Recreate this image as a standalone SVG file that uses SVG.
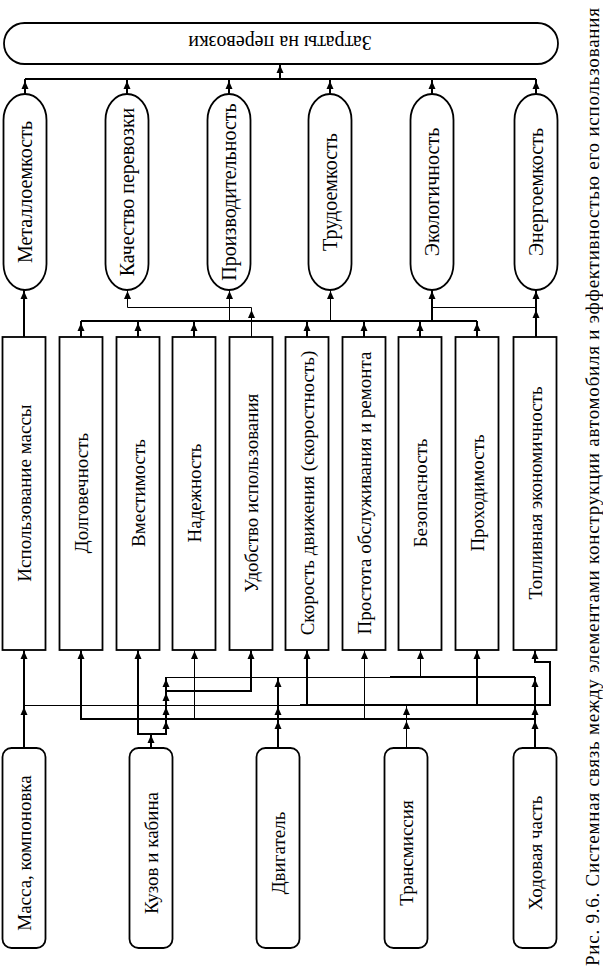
<svg xmlns="http://www.w3.org/2000/svg" xmlns:xlink="http://www.w3.org/1999/xlink" width="603" height="971" viewBox="0 0 603 971">
<style>
.n{fill:#fff;stroke:#000;stroke-width:1.8}
.t{font-family:"Liberation Serif","Times New Roman",serif;font-size:19px;fill:#000;text-anchor:middle;dominant-baseline:central}
.to{font-size:20px}
.cap{font-family:"Liberation Serif","Times New Roman",serif;font-size:19px;fill:#000}
.c{fill:none;stroke:#000;stroke-width:2}
.c1{fill:none;stroke:#000;stroke-width:1}
</style>
<defs>
<path id="ah" d="M0,0 L-3.5,8 L3.5,8 Z" fill="#000"/>
</defs>
<rect width="603" height="971" fill="#fff"/>

<g id="connectors">
<!-- top bus -->
<path class="c" d="M25,79 H536"/>
<path class="c" d="M25,94 V79 M127,94 V79 M229,94 V79 M330,94 V79 M432,94 V79 M536,94 V79 M280,79 V64"/>
<!-- middle -->
<path class="c" d="M24,337 V290"/>
<path class="c1" d="M127.5,290 V307.5 H251.5 V337"/>
<path class="c" d="M81,321 H477"/>
<path class="c" d="M81,337 V321 M138,337 V321 M194,337 V321 M307,337 V321 M364,337 V321 M420,337 V321 M477,337 V321"/>
<path class="c1" d="M229.5,321 V290 M330.5,321 V290"/>
<path class="c" d="M432,321 V290"/>
<path class="c1" d="M432,307.5 H536"/>
<path class="c" d="M536,337 V290"/>
<!-- bottom -->
<path class="c" d="M24,748 V650"/>
<path class="c1" d="M24,705.5 H300"/>
<path class="c" d="M300,705 H550 V662 H535 V650"/>
<path class="c1" d="M166,677.5 H390"/>
<path class="c" d="M390,677 H535"/>
<path class="c" d="M166,691 H251 V650"/>
<path class="c" d="M81,650 V719 H535"/>
<path class="c" d="M151,748 V734 M138,650 V734 H166 V677"/>
<path class="c1" d="M194.5,719 V650"/>
<path class="c" d="M278,748 V677"/>
<path class="c" d="M307,705 V650"/>
<path class="c1" d="M364.5,719 V650"/>
<path class="c1" d="M406.5,748 V705"/>
<path class="c1" d="M420.5,677 V650"/>
<path class="c" d="M477,705 V650"/>
<path class="c" d="M535,748 V677"/>
<!-- arrowheads -->
<use xlink:href="#ah" x="25" y="81"/>
<use xlink:href="#ah" x="127" y="81"/>
<use xlink:href="#ah" x="229" y="81"/>
<use xlink:href="#ah" x="330" y="81"/>
<use xlink:href="#ah" x="432" y="81"/>
<use xlink:href="#ah" x="536" y="81"/>
<use xlink:href="#ah" x="280" y="65"/>
<use xlink:href="#ah" x="24" y="291"/>
<use xlink:href="#ah" x="127.5" y="291"/>
<use xlink:href="#ah" x="229.5" y="291"/>
<use xlink:href="#ah" x="330.5" y="291"/>
<use xlink:href="#ah" x="432" y="291"/>
<use xlink:href="#ah" x="536" y="291"/>
<use xlink:href="#ah" x="251.5" y="310"/>
<use xlink:href="#ah" x="536" y="310"/>
<use xlink:href="#ah" x="81" y="323"/>
<use xlink:href="#ah" x="138" y="323"/>
<use xlink:href="#ah" x="194" y="323"/>
<use xlink:href="#ah" x="307" y="323"/>
<use xlink:href="#ah" x="364" y="323"/>
<use xlink:href="#ah" x="420" y="323"/>
<use xlink:href="#ah" x="477" y="323"/>
<use xlink:href="#ah" x="24" y="651"/>
<use xlink:href="#ah" x="81" y="651"/>
<use xlink:href="#ah" x="138" y="651"/>
<use xlink:href="#ah" x="194.5" y="651"/>
<use xlink:href="#ah" x="251" y="651"/>
<use xlink:href="#ah" x="307" y="651"/>
<use xlink:href="#ah" x="364.5" y="651"/>
<use xlink:href="#ah" x="420.5" y="651"/>
<use xlink:href="#ah" x="477" y="651"/>
<use xlink:href="#ah" x="535" y="651"/>
<use xlink:href="#ah" x="24" y="707"/>
<use xlink:href="#ah" x="151" y="735"/>
<use xlink:href="#ah" x="166" y="679"/>
<use xlink:href="#ah" x="166" y="693"/>
<use xlink:href="#ah" x="166" y="707"/>
<use xlink:href="#ah" x="166" y="721"/>
<use xlink:href="#ah" x="278" y="679"/>
<use xlink:href="#ah" x="278" y="707"/>
<use xlink:href="#ah" x="278" y="721"/>
<use xlink:href="#ah" x="406.5" y="707"/>
<use xlink:href="#ah" x="406.5" y="721"/>
<use xlink:href="#ah" x="535" y="679"/>
<use xlink:href="#ah" x="535" y="707"/>
<use xlink:href="#ah" x="535" y="721"/>
</g>

<g id="zatraty">
<rect class="n" x="4" y="23" width="554" height="41" rx="20.5"/>
<text class="t to" transform="translate(280,43) rotate(180)">Затраты на перевозки</text>
</g>

<g id="metalloemkost"><rect class="n" x="3.5" y="94" width="43" height="196" rx="21.5" ry="26"/><text class="t to" transform="translate(25,192) rotate(-90)">Металлоемкость</text></g>
<g id="kachestvo"><rect class="n" x="105.5" y="94" width="43" height="196" rx="21.5" ry="26"/><text class="t to" transform="translate(127,192) rotate(-90)">Качество перевозки</text></g>
<g id="proizvoditelnost"><rect class="n" x="207.5" y="94" width="43" height="196" rx="21.5" ry="26"/><text class="t to" transform="translate(229,192) rotate(-90)">Производительность</text></g>
<g id="trudoemkost"><rect class="n" x="308.5" y="94" width="43" height="196" rx="21.5" ry="26"/><text class="t to" transform="translate(330,192) rotate(-90)">Трудоемкость</text></g>
<g id="ekologichnost"><rect class="n" x="410.5" y="94" width="43" height="196" rx="21.5" ry="26"/><text class="t to" transform="translate(432,192) rotate(-90)">Экологичность</text></g>
<g id="energoemkost"><rect class="n" x="514.5" y="94" width="43" height="196" rx="21.5" ry="26"/><text class="t to" transform="translate(536,192) rotate(-90)">Энергоемкость</text></g>

<g id="ispolzovanie"><rect class="n" x="2.5" y="337" width="43" height="313"/><text class="t" transform="translate(24,493) rotate(-90)">Использование массы</text></g>
<g id="dolgovechnost"><rect class="n" x="59.5" y="337" width="43" height="313"/><text class="t" transform="translate(81,493) rotate(-90)">Долговечность</text></g>
<g id="vmestimost"><rect class="n" x="116.5" y="337" width="43" height="313"/><text class="t" transform="translate(138,493) rotate(-90)">Вместимость</text></g>
<g id="nadezhnost"><rect class="n" x="172.5" y="337" width="43" height="313"/><text class="t" transform="translate(194,493) rotate(-90)">Надежность</text></g>
<g id="udobstvo"><rect class="n" x="229.5" y="337" width="43" height="313"/><text class="t" transform="translate(251,493) rotate(-90)">Удобство использования</text></g>
<g id="skorost"><rect class="n" x="285.5" y="337" width="43" height="313"/><text class="t" transform="translate(307,493) rotate(-90)">Скорость движения (скоростность)</text></g>
<g id="prostota"><rect class="n" x="342.5" y="337" width="43" height="313"/><text class="t" transform="translate(364,493) rotate(-90)">Простота обслуживания и ремонта</text></g>
<g id="bezopasnost"><rect class="n" x="398.5" y="337" width="43" height="313"/><text class="t" transform="translate(420,493) rotate(-90)">Безопасность</text></g>
<g id="prohodimost"><rect class="n" x="455.5" y="337" width="43" height="313"/><text class="t" transform="translate(477,493) rotate(-90)">Проходимость</text></g>
<g id="toplivnaya"><rect class="n" x="513.5" y="337" width="43" height="313"/><text class="t" transform="translate(535,493) rotate(-90)">Топливная экономичность</text></g>

<g id="massa"><rect class="n" x="2.5" y="748" width="43" height="200" rx="9"/><text class="t" transform="translate(24,853) rotate(-90)">Масса, компоновка</text></g>
<g id="kuzov"><rect class="n" x="129.5" y="748" width="43" height="200" rx="9"/><text class="t" transform="translate(151,853) rotate(-90)">Кузов и кабина</text></g>
<g id="dvigatel"><rect class="n" x="256.5" y="748" width="43" height="200" rx="9"/><text class="t" transform="translate(278,853) rotate(-90)">Двигатель</text></g>
<g id="transmissiya"><rect class="n" x="384.5" y="748" width="43" height="200" rx="9"/><text class="t" transform="translate(406,853) rotate(-90)">Трансмиссия</text></g>
<g id="hodovaya"><rect class="n" x="513.5" y="748" width="43" height="200" rx="9"/><text class="t" transform="translate(535,853) rotate(-90)">Ходовая часть</text></g>

<text class="cap" transform="translate(599,966) rotate(-90)" textLength="958" lengthAdjust="spacing">Рис. 9.6. Системная связь между элементами конструкции автомобиля и эффективностью его использования</text>
</svg>
